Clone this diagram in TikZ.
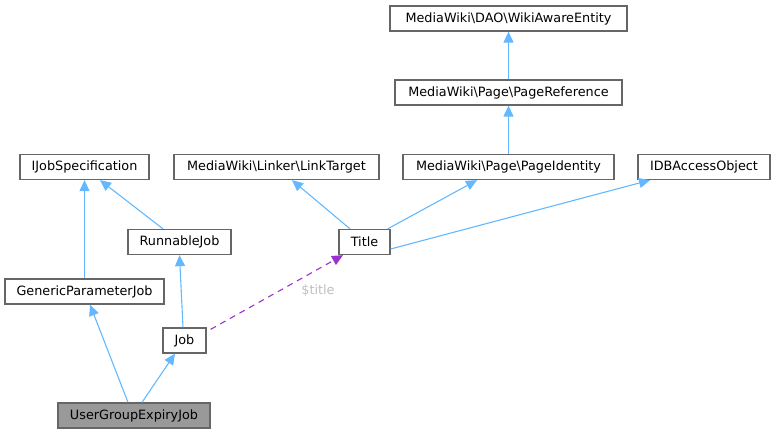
\documentclass[tikz,border=0pt]{standalone}
\usepackage{fontspec}
\setmainfont{DejaVu Sans}
\usetikzlibrary{arrows.meta}
\definecolor{edgeblue}{HTML}{63B8FF}
\definecolor{usepurple}{HTML}{9A32CD}
\definecolor{boxgray}{HTML}{666666}
\definecolor{focusfill}{HTML}{999999}
\definecolor{labelgray}{HTML}{BEBEBE}
\newcommand{\diagfont}{\fontsize{12.8}{15}\selectfont}

\begin{document}
\begin{tikzpicture}[x=1pt,y=-1pt,
  cls/.style={draw=boxgray,fill=white,line width=1.3pt,minimum height=25pt,
    inner sep=0pt,anchor=center,font=\diagfont},
  inherit/.style={edgeblue,line width=1.1pt,-{Triangle[length=11pt,width=10pt]}},
  uses/.style={usepurple,line width=1.1pt,dash pattern=on 6pt off 5pt,
    -{Triangle[length=11pt,width=10pt]}}]
  \useasboundingbox (0,0) rectangle (776,433);
  \node[cls,minimum width=237pt] (wae) at (508.5,18.5) {MediaWiki\textbackslash DAO\textbackslash WikiAwareEntity};
  \node[cls,minimum width=227pt] (pref) at (508.5,92.5) {MediaWiki\textbackslash Page\textbackslash PageReference};
  \node[cls,minimum width=211pt] (pid) at (508.5,167) {MediaWiki\textbackslash Page\textbackslash PageIdentity};
  \node[cls,minimum width=129pt] (ijob) at (84.5,167) {IJobSpecification};
  \node[cls,minimum width=205pt] (ltarget) at (276.5,167) {MediaWiki\textbackslash Linker\textbackslash LinkTarget};
  \node[cls,minimum width=132pt] (idbao) at (704,167) {IDBAccessObject};
  \node[cls,minimum width=103pt] (rjob) at (179.5,242) {RunnableJob};
  \node[cls,minimum width=51pt] (title) at (364.5,242) {Title};
  \node[cls,minimum width=159pt] (gpjob) at (84.5,291.5) {GenericParameterJob};
  \node[cls,minimum width=43pt] (job) at (184.5,340.5) {Job};
  \node[cls,fill=focusfill,minimum width=152pt] (ugej) at (134,415.5) {UserGroupExpiryJob};

  % inheritance
  \draw[inherit] (pref.north) -- (wae.south);
  \draw[inherit] (pid.north) -- (pref.south);
  \draw[inherit] (gpjob.north) -- (ijob.south);
  \draw[inherit] ([xshift=-16.5pt]rjob.north) -- ([xshift=15.5pt]ijob.south);
  \draw[inherit] ([xshift=-1.5pt]job.north) -- (rjob.south);
  \draw[inherit] ([xshift=-14.5pt]title.north) -- ([xshift=15.5pt]ltarget.south);
  \draw[inherit] ([xshift=-3pt]title.north east) -- ([xshift=-31.5pt]pid.south);
  \draw[inherit] ([yshift=-7pt]title.east) -- ([xshift=-54pt]idbao.south);
  \draw[inherit] ([xshift=-6pt]ugej.north) -- ([xshift=5.5pt]gpjob.south);
  \draw[inherit] ([xshift=8pt]ugej.north) -- ([xshift=-9.5pt]job.south);

  % member usage
  \draw[uses] ([xshift=4pt,yshift=-2pt]job.north east) -- ([xshift=-21.5pt]title.south);
  \node[labelgray,font=\diagfont] (lbl) at (318,291) {\$title};
\end{tikzpicture}
\end{document}
